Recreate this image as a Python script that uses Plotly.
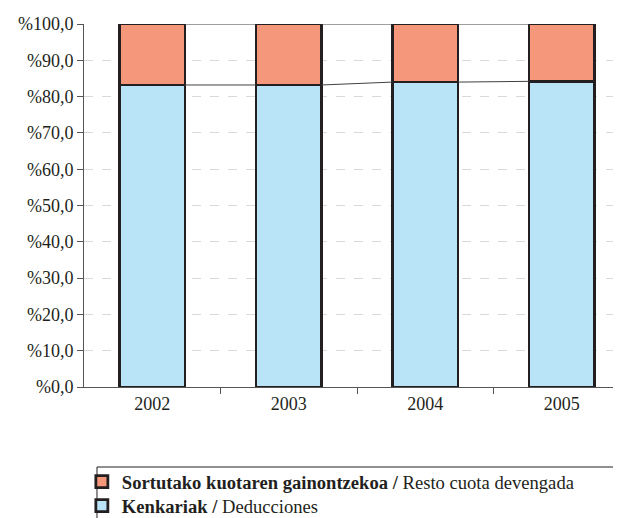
import plotly.graph_objects as go

years = ["2002", "2003", "2004", "2005"]
kenkariak = [83.2, 83.2, 84.0, 84.2]          # Kenkariak / Deducciones
resto = [100 - v for v in kenkariak]           # Sortutako kuotaren gainontzekoa / Resto cuota devengada
y_ticks = [0, 10, 20, 30, 40, 50, 60, 70, 80, 90, 100]
y_ticktext = ["%" + f"{v:.1f}".replace(".", ",") for v in y_ticks]

FONT = "Liberation Serif, Times New Roman, serif"
BW = 0.48
xs = list(range(len(years)))

fig = go.Figure()
fig.add_trace(go.Bar(
    x=xs, y=kenkariak, width=BW, name="<b>Kenkariak /</b> Deducciones", legend="legend2",
    marker=dict(color="#B9E3F7", line=dict(color="#231F20", width=2.8)),
))
fig.add_trace(go.Bar(
    x=xs, y=resto, width=BW, name="<b>Sortutako kuotaren gainontzekoa /</b> Resto cuota devengada",
    legend="legend",
    marker=dict(color="#F4977A", line=dict(color="#231F20", width=2.8)),
))

# connector lines between stacked bars
tops = [k + r for k, r in zip(kenkariak, resto)]
for i in range(len(years) - 1):
    for series in (kenkariak, tops):
        fig.add_trace(go.Scatter(
            x=[xs[i] + BW / 2, xs[i + 1] - BW / 2], y=[series[i], series[i + 1]],
            mode="lines", line=dict(color="#404040", width=1), showlegend=False, hoverinfo="skip",
        ))

leg_common = dict(xanchor="left", yanchor="top", bgcolor="rgba(0,0,0,0)", borderwidth=0,
                  font=dict(family=FONT, size=18.6))

fig.update_layout(
    barmode="stack",
    width=621, height=518,
    margin=dict(l=76, r=8, t=16, b=139, autoexpand=False),
    paper_bgcolor="white", plot_bgcolor="white",
    font=dict(family=FONT, size=18, color="#231F20"),
    legend=dict(x=-0.004, y=-0.2094, **leg_common),
    legend2=dict(x=-0.004, y=-0.2755, **leg_common),
    shapes=[
        dict(type="line", xref="paper", yref="paper", x0=0.0242, x1=1.05, y0=-0.2204, y1=-0.2204,
             line=dict(color="#231F20", width=1)),
        dict(type="line", xref="paper", yref="paper", x0=0.0242, x1=0.0242, y0=-0.2204, y1=-0.6,
             line=dict(color="#231F20", width=1)),
    ],
)
fig.update_xaxes(
    range=[-0.5, 3.434], tickmode="array", tickvals=xs, ticktext=years, ticks="",
    showline=True, linecolor="#555555", linewidth=1, showgrid=False, zeroline=False,
    tickfont=dict(family=FONT, size=18), automargin=False,
    minor=dict(tickmode="array", tickvals=[0.5, 1.5, 2.5], ticks="outside", ticklen=6,
               tickcolor="#555555", showgrid=False),
)
fig.update_yaxes(
    range=[0, 100], tickmode="array", tickvals=y_ticks, ticktext=y_ticktext,
    ticks="outside", ticklen=6, tickcolor="#555555",
    showline=True, linecolor="#555555", linewidth=1,
    showgrid=True, gridcolor="#D9D9D9", griddash="dash", gridwidth=1, zeroline=False,
    tickfont=dict(family=FONT, size=18), automargin=False,
)

fig.write_html("out.html")
